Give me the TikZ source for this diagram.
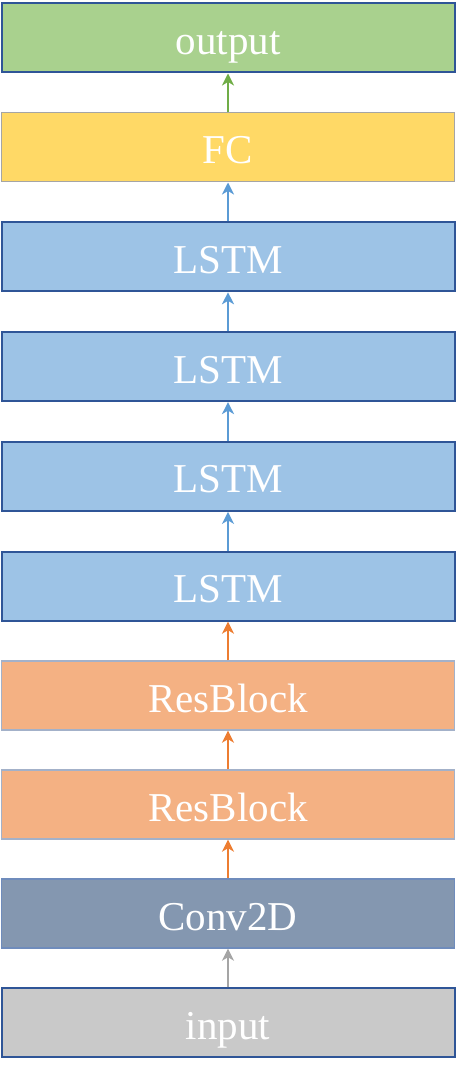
\documentclass[tikz,border=0pt]{standalone}
\usepackage{fontspec}
\setmainfont{Liberation Serif}
\usepackage{tikz}
\usetikzlibrary{positioning}
\usetikzlibrary{arrows.meta}

\definecolor{outgreen}{HTML}{A9D18E}
\definecolor{fcyellow}{HTML}{FFD966}
\definecolor{lstmblue}{HTML}{9DC3E6}
\definecolor{resorange}{HTML}{F4B183}
\definecolor{convblue}{HTML}{8497B0}
\definecolor{ingray}{HTML}{C9C9C9}
\definecolor{darkedge}{HTML}{2F5597}
\definecolor{grayedge}{HTML}{A5A5A5}
\definecolor{resedge}{HTML}{A3B1C9}
\definecolor{convedge}{HTML}{6F8CBC}
\definecolor{arrgreen}{HTML}{70AD47}
\definecolor{arrblue}{HTML}{5B9BD5}
\definecolor{arrorange}{HTML}{ED7D31}
\definecolor{arrgray}{HTML}{A5A5A5}

\begin{document}
\begin{tikzpicture}[x=1pt,y=1pt,
		layer/.style = {rectangle,minimum width = 453pt,minimum height = 69pt,text = white,inner sep = 0pt,text height = 33pt,text depth = 0pt,font = \fontsize{41}{48}\selectfont},
		thick edge/.style = {draw = darkedge,line width = 2pt},
		thin edge/.style = {line width = 1.2pt},
		flow/.style = {line width = 2.2pt,-{Stealth[length=12pt,width=12pt,inset=3.5pt]}}]
		\useasboundingbox (0,0) rectangle (456,1074);
		\node[layer,thick edge,fill = ingray] at (228,51) (in) {input};
		\node[layer,thin edge,draw = convedge,fill = convblue,above = 38.8pt of in] (conv) {Conv2D};
		\node[layer,thin edge,draw = resedge,fill = resorange,above = 38.8pt of conv] (res1) {ResBlock};
		\node[layer,thin edge,draw = resedge,fill = resorange,above = 38.8pt of res1] (res2) {ResBlock};
		\node[layer,thick edge,fill = lstmblue,above = 38.8pt of res2] (lstm1) {LSTM};
		\node[layer,thick edge,fill = lstmblue,above = 38.8pt of lstm1] (lstm2) {LSTM};
		\node[layer,thick edge,fill = lstmblue,above = 38.8pt of lstm2] (lstm3) {LSTM};
		\node[layer,thick edge,fill = lstmblue,above = 38.8pt of lstm3] (lstm4) {LSTM};
		\node[layer,thin edge,draw = grayedge,fill = fcyellow,above = 38.8pt of lstm4] (fc) {FC};
		\node[layer,thick edge,fill = outgreen,above = 38.8pt of fc] (out) {output};
		\draw[flow,arrgray] (in) -- (conv);
		\draw[flow,arrorange] (conv) -- (res1);
		\draw[flow,arrorange] (res1) -- (res2);
		\draw[flow,arrorange] (res2) -- (lstm1);
		\draw[flow,arrblue] (lstm1) -- (lstm2);
		\draw[flow,arrblue] (lstm2) -- (lstm3);
		\draw[flow,arrblue] (lstm3) -- (lstm4);
		\draw[flow,arrblue] (lstm4) -- (fc);
		\draw[flow,arrgreen] (fc) -- (out);
	\end{tikzpicture}
\end{document}
